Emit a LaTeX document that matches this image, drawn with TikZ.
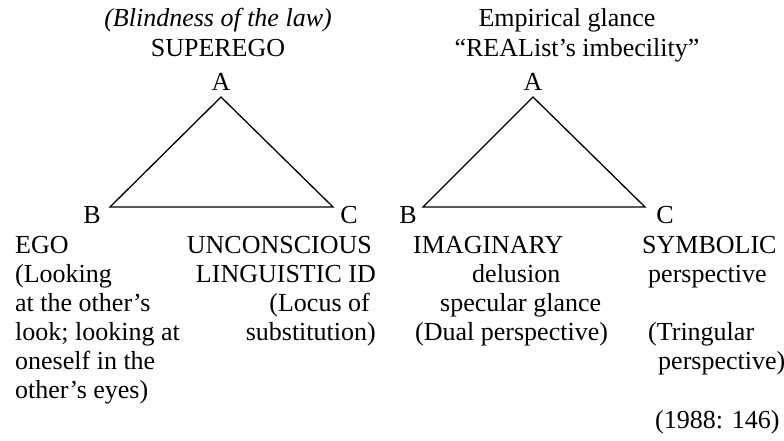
\documentclass[tikz,border=0pt]{standalone}
\usepackage{fontspec}
\setmainfont{Liberation Serif}
\begin{document}
\begin{tikzpicture}[x=1pt,y=-1pt,
  txt/.style={inner sep=0pt, font=\fontsize{26}{29}\selectfont},
  edge/.style={line width=1.3pt, line join=miter}]
\useasboundingbox (0,0) rectangle (784,441);
% left triangle
\coordinate (lAv) at (221,97);
\coordinate (lBv) at (110,207);
\coordinate (lCv) at (333,207);
\draw[edge] (lAv) -- (lBv) -- (lCv) -- cycle;
% right triangle
\coordinate (rAv) at (533,97);
\coordinate (rBv) at (423,207);
\coordinate (rCv) at (645,207);
\draw[edge] (rAv) -- (rBv) -- (rCv) -- cycle;
% top labels left
\node[txt, anchor=base] (law) at (218,27) {\itshape (Blindness of the law)};
\node[txt, anchor=base] (superego) at (218,57) {SUPEREGO};
\node[txt, anchor=base] (lA) at (221,91) {A};
\node[txt, anchor=base] (lB) at (92,223) {B};
\node[txt, anchor=base] (lC) at (349,223) {C};
% top labels right
\node[txt, anchor=base] (emp) at (567,27) {Empirical glance};
\node[txt, anchor=base] (real) at (577,57) {“REAList’s imbecility”};
\node[txt, anchor=base] (rA) at (533,91) {A};
\node[txt, anchor=base] (rB) at (408,223) {B};
\node[txt, anchor=base] (rC) at (665,223) {C};
% bottom left column
\node[txt, anchor=base west] (ego1) at (15,253) {EGO};
\node[txt, anchor=base west] (ego2) at (15,282) {(Looking};
\node[txt, anchor=base west] (ego3) at (15,311) {at the other’s};
\node[txt, anchor=base west] (ego4) at (15,340) {look; looking at};
\node[txt, anchor=base west] (ego5) at (15,369) {oneself in the};
\node[txt, anchor=base west] (ego6) at (15,398) {other’s eyes)};
% unconscious column
\node[txt, anchor=base east] (unc1) at (372,253) {UNCONSCIOUS};
\node[txt, anchor=base east] (unc2) at (376,282) {LINGUISTIC ID};
\node[txt, anchor=base east] (unc3) at (370,311) {(Locus of};
\node[txt, anchor=base east] (unc4) at (376,340) {substitution)};
% imaginary column
\node[txt, anchor=base west] (im1) at (413,253) {IMAGINARY};
\node[txt, anchor=base west] (im2) at (472,282) {delusion};
\node[txt, anchor=base west] (im3) at (440,311) {specular glance};
\node[txt, anchor=base west] (im4) at (415,340) {(Dual perspective)};
% symbolic column
\node[txt, anchor=base west] (sy1) at (642,253) {SYMBOLIC};
\node[txt, anchor=base west] (sy2) at (648,282) {perspective};
\node[txt, anchor=base west] (sy3) at (648,340) {(Tringular};
\node[txt, anchor=base west] (sy4) at (658,369) {perspective)};
\node[txt, anchor=base west] (cite) at (655,428) {(1988: 146)};
\end{tikzpicture}
\end{document}
